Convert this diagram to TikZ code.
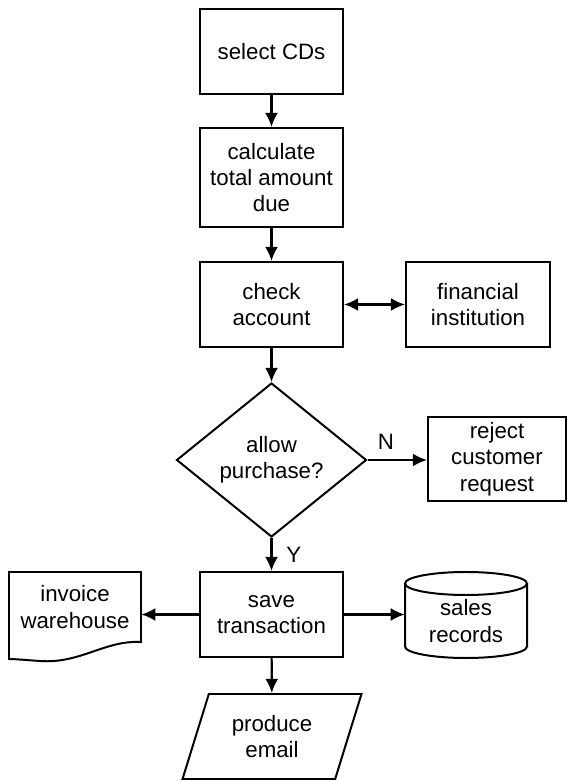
\documentclass[tikz,border=0pt]{standalone}
\usepackage{fontspec}
\setmainfont{Liberation Sans}
\usetikzlibrary{shapes.geometric,arrows.meta}

\tikzset{
  every node/.style={font=\fontsize{19}{22.5}\selectfont},
  thickline/.style={line width=1.7pt},
  proc/.style={thickline, draw, rectangle, align=center, minimum width=4.29cm, minimum height=2.55cm, inner sep=2pt},
  decide/.style={thickline, draw, diamond, align=center, minimum width=5.7cm, minimum height=4.62cm, inner sep=0pt},
  io/.style={thickline, draw, trapezium, trapezium left angle=70, trapezium right angle=110, trapezium stretches=true, align=center, minimum width=5.37cm, minimum height=2.55cm},
  plain/.style={align=center, inner sep=0pt},
  arr/.style={draw, line width=1.8pt, -{Latex[length=12pt,width=11pt]}},
  arrboth/.style={draw, line width=1.8pt, {Latex[length=12pt,width=11pt]}-{Latex[length=12pt,width=11pt]}}
}

\begin{document}
\begin{tikzpicture}[x=0.03cm, y=0.03cm]
    \useasboundingbox (0,0) rectangle (569,781);

    \node[proc] (select) at (271.5,729.5) {select CDs};
    \node[proc, minimum height=2.97cm] (calc) at (271.5,603.5) {calculate\\total amount\\due};
    \node[proc] (check) at (271.5,476.5) {check\\account};
    \node[proc, minimum width=4.32cm] (fin) at (478,476.5) {financial\\institution};
    \node[decide] (allow) at (271.5,321) {allow\\purchase?};
    \node[proc, minimum width=4.14cm, minimum height=2.52cm] (reject) at (497,322) {reject\\customer\\request};
    \node[proc] (save) at (271.5,166.5) {save\\transaction};
    \node[plain, minimum width=3.96cm] (inv) at (75,174) {invoice\\warehouse};
    \node[plain, minimum width=3.66cm] (rec) at (466,160) {sales\\records};
    \node[io] (email) at (272,44.5) {produce\\email};

    % document and storage outlines
    \draw[thickline] (9,209) -- (141,209) -- (141,139)
        .. controls (105,141) and (80,117) .. (40,120)
        .. controls (25,121) and (15,122) .. (9,122) -- cycle;
    \draw[thickline] (405,197.5) -- (405,134.5)
        arc[start angle=180, end angle=360, x radius=1.83cm, y radius=0.345cm] -- (527,197.5);
    \draw[thickline] (466,197.5) ellipse [x radius=1.83cm, y radius=0.345cm];

    \draw[arr] (select) -- (calc);
    \draw[arr] (calc) -- (check);
    \draw[arrboth] (check) -- (fin);
    \draw[arr] (check) -- (allow);
    \draw[arr] (allow.east) -- node[above, pos=0.31, yshift=0.18cm] {N} (allow.east -| reject.west);
    \draw[arr] (allow) -- node[right, xshift=0.3cm] {Y} (save);
    \draw[arr] (save.west) -- (inv.east |- save.west);
    \draw[arr] (save.east) -- (rec.west |- save.east);
    \draw[arr] (save) -- (email);
  \end{tikzpicture}
\end{document}
